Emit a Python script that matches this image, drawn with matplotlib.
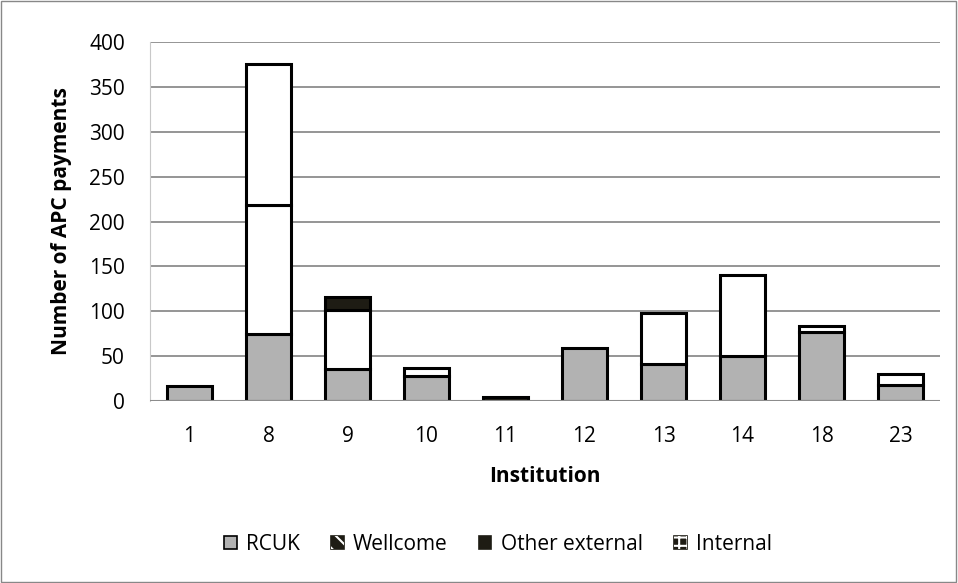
import numpy as np
import matplotlib
matplotlib.use("Agg")
import matplotlib.pyplot as plt
from matplotlib.patches import Patch, Rectangle
from matplotlib.legend_handler import HandlerTuple

plt.rcParams['font.family'] = ['Open Sans', 'DejaVu Sans']
plt.rcParams['hatch.linewidth'] = 1.5

# datos
institutions = ['1', '8', '9', '10', '11', '12', '13', '14', '18', '23']
rcuk = [17, 75, 36, 28, 0, 59, 41, 50, 77, 18]
wellcome = [0, 143, 65, 9, 0, 0, 57, 90, 7, 12]
other_external = [0, 0, 15, 0, 4, 0, 0, 0, 0, 0]
internal = [0, 158, 0, 0, 0, 0, 0, 0, 0, 0]

series_names = ['RCUK', 'Wellcome', 'Other external', 'Internal']
series = [rcuk, wellcome, other_external, internal]
colors = ['#b2b2b2', 'white', '#1e1c14', 'white']

fig = plt.figure(figsize=(9.58, 5.83), dpi=100)
ax = fig.add_axes([150/958, 1 - 401/583, 790/958, 359/583])

x = np.arange(len(institutions))
bottom = np.zeros(len(institutions))
for vals, c in zip(series, colors):
    vals = np.array(vals, dtype=float)
    mask = vals > 0
    ax.bar(x[mask], vals[mask], bottom=bottom[mask], width=0.58, color=c,
           edgecolor='black', linewidth=2.2, zorder=3)
    bottom += vals

ax.set_ylim(0, 400)
ax.set_xlim(-0.5, len(institutions) - 0.5)
ax.set_yticks(range(0, 401, 50))
ax.set_xticks(x)
ax.set_xticklabels(institutions)
ax.yaxis.grid(True, color='#8c8c8c', linewidth=1.3, zorder=0)
ax.tick_params(axis='both', length=0, labelsize=15)
ax.tick_params(axis='y', pad=18)
ax.tick_params(axis='x', pad=18)
for s in ['top', 'right', 'bottom']:
    ax.spines[s].set_visible(False)
ax.spines['left'].set_color('#c8c8c8')
ax.axhline(0, color='#8c8c8c', linewidth=1.5, zorder=4)

ax.set_ylabel('Number of APC payments', fontsize=15, fontweight='bold', labelpad=12)
ax.set_xlabel('Institution', fontsize=15, fontweight='bold', labelpad=14)

dark = '#1e1c14'
h_rcuk = Patch(facecolor='#b2b2b2', edgecolor='black', linewidth=1.2)
h_well = (Patch(facecolor=dark, edgecolor=dark, linewidth=1.2),
          Patch(facecolor='none', edgecolor='white', hatch='\\\\', linewidth=0))
h_other = Patch(facecolor=dark, edgecolor=dark, linewidth=1.2)
h_int = (Patch(facecolor=dark, edgecolor=dark, linewidth=1.2),
         Patch(facecolor='none', edgecolor='white', hatch='++', linewidth=0))
fig.legend([h_rcuk, h_well, h_other, h_int], series_names, loc='center',
           bbox_to_anchor=(498/958, 1 - 544/583), ncol=4, frameon=False, fontsize=15,
           handlelength=0.6, handleheight=0.6, handletextpad=0.45, columnspacing=1.5,
           handler_map={tuple: HandlerTuple(ndivide=1, pad=0)})

fig.patches.append(Rectangle((0.001, 0.001), 0.997, 0.997, transform=fig.transFigure,
                             fill=False, edgecolor='#888888', linewidth=1))

fig.savefig('out.png', dpi=100)
